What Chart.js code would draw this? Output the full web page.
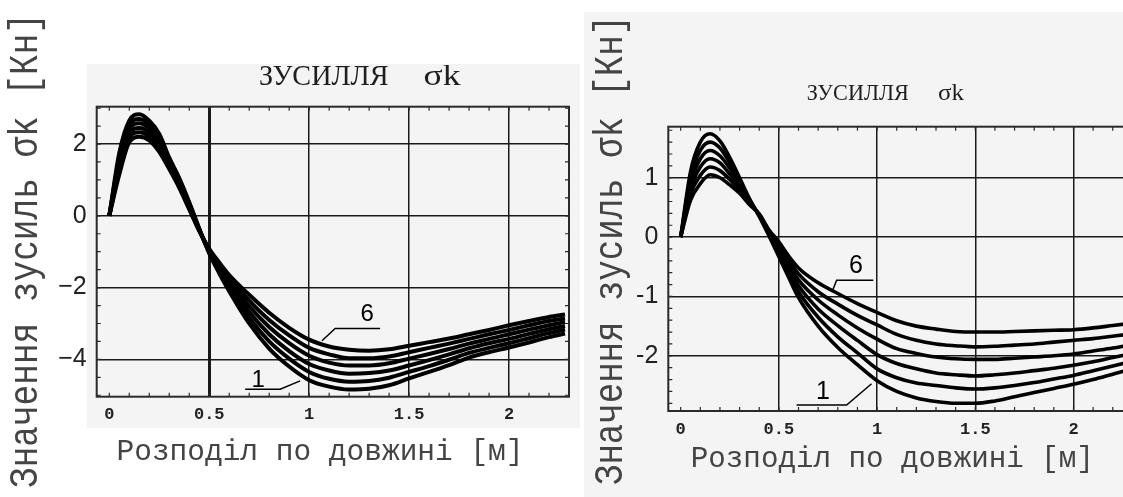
<!DOCTYPE html>
<html>
<head>
<meta charset="utf-8">
<script src="https://cdn.jsdelivr.net/npm/chart.js@4.4.1/dist/chart.umd.min.js"></script>
<style>
  html, body { margin: 0; padding: 0; background: #fff; overflow: hidden; width: 1123px; height: 497px; }
  .bg { position: absolute; background: #f4f4f4; }
  .box { position: absolute; top: 0; height: 497px; }
  canvas { display: block; }
</style>
</head>
<body>
<div class="bg" style="left:87px;top:64px;width:493px;height:364px"></div>
<div class="bg" style="left:584px;top:12px;width:539px;height:485px"></div>
<div class="box" style="left:0;width:580px"><canvas id="left"></canvas></div>
<div class="box" style="left:580px;width:600px"><canvas id="right"></canvas></div>
<script>
// x positions along the beam [m]
const xLeft = [0, 0.05, 0.1, 0.15, 0.2, 0.25, 0.3, 0.35, 0.4, 0.45, 0.5, 0.55, 0.6, 0.7, 0.8, 0.9, 1.0, 1.1, 1.2, 1.3, 1.4, 1.5, 1.6, 1.7, 1.8, 1.9, 2.0, 2.1, 2.2, 2.28];
const xRight = [0, 0.05, 0.1, 0.15, 0.2, 0.25, 0.3, 0.35, 0.4, 0.45, 0.5, 0.55, 0.6, 0.7, 0.8, 0.9, 1.0, 1.1, 1.2, 1.3, 1.4, 1.5, 1.6, 1.7, 1.8, 1.9, 2.0, 2.1, 2.2, 2.3];

// left chart, curves 1..6
const leftCurve1 = [0, 1.75, 2.65, 2.83, 2.65, 2.28, 1.62, 1.05, 0.38, -0.35, -1.05, -1.6, -2.1, -3.0, -3.7, -4.2, -4.58, -4.76, -4.84, -4.82, -4.72, -4.53, -4.35, -4.16, -3.95, -3.8, -3.67, -3.53, -3.38, -3.28];
const leftCurve2 = [0, 1.63, 2.53, 2.70, 2.54, 2.18, 1.56, 1.0, 0.34, -0.37, -1.02, -1.54, -2.0, -2.84, -3.5, -3.98, -4.35, -4.54, -4.62, -4.6, -4.51, -4.35, -4.19, -4.01, -3.82, -3.68, -3.55, -3.41, -3.27, -3.17];
const leftCurve3 = [0, 1.51, 2.41, 2.58, 2.43, 2.08, 1.5, 0.94, 0.3, -0.39, -0.99, -1.48, -1.91, -2.68, -3.3, -3.77, -4.13, -4.31, -4.40, -4.38, -4.31, -4.17, -4.02, -3.86, -3.69, -3.55, -3.43, -3.29, -3.16, -3.07];
const leftCurve4 = [0, 1.39, 2.29, 2.45, 2.32, 1.98, 1.43, 0.89, 0.26, -0.4, -0.96, -1.42, -1.82, -2.52, -3.1, -3.55, -3.9, -4.09, -4.17, -4.17, -4.11, -3.98, -3.85, -3.71, -3.56, -3.43, -3.3, -3.17, -3.05, -2.96];
const leftCurve5 = [0, 1.27, 2.17, 2.33, 2.21, 1.88, 1.37, 0.83, 0.22, -0.41, -0.94, -1.36, -1.73, -2.36, -2.9, -3.33, -3.68, -3.86, -3.97, -3.97, -3.92, -3.80, -3.68, -3.56, -3.43, -3.3, -3.18, -3.05, -2.93, -2.86];
const leftCurve6 = [0, 1.15, 2.05, 2.2, 2.1, 1.78, 1.3, 0.78, 0.18, -0.42, -0.92, -1.3, -1.65, -2.2, -2.7, -3.12, -3.45, -3.64, -3.73, -3.76, -3.72, -3.62, -3.52, -3.42, -3.3, -3.18, -3.05, -2.93, -2.82, -2.75];

// right chart, curves 1..6
const rightCurve1 = [0, 1.1, 1.6, 1.74, 1.62, 1.34, 1.0, 0.65, 0.35, 0.02, -0.33, -0.68, -1.02, -1.5, -1.86, -2.15, -2.42, -2.6, -2.71, -2.77, -2.8, -2.8, -2.76, -2.69, -2.62, -2.55, -2.48, -2.4, -2.31, -2.22];
const rightCurve2 = [0, 1.0, 1.46, 1.60, 1.50, 1.25, 0.95, 0.63, 0.36, 0.04, -0.28, -0.6, -0.92, -1.35, -1.68, -1.95, -2.22, -2.37, -2.46, -2.50, -2.54, -2.56, -2.54, -2.50, -2.45, -2.39, -2.33, -2.25, -2.17, -2.09];
const rightCurve3 = [0, 0.9, 1.32, 1.46, 1.37, 1.16, 0.9, 0.61, 0.36, 0.06, -0.23, -0.53, -0.82, -1.21, -1.49, -1.74, -1.98, -2.13, -2.22, -2.29, -2.32, -2.34, -2.32, -2.29, -2.25, -2.21, -2.16, -2.1, -2.03, -1.96];
const rightCurve4 = [0, 0.81, 1.18, 1.32, 1.25, 1.06, 0.84, 0.59, 0.37, 0.08, -0.18, -0.46, -0.72, -1.06, -1.31, -1.53, -1.72, -1.88, -1.96, -2.02, -2.05, -2.06, -2.06, -2.04, -2.02, -2.0, -1.97, -1.92, -1.87, -1.81];
const rightCurve5 = [0, 0.72, 1.04, 1.18, 1.12, 0.97, 0.79, 0.57, 0.38, 0.1, -0.13, -0.39, -0.62, -0.92, -1.13, -1.32, -1.48, -1.64, -1.74, -1.80, -1.83, -1.85, -1.84, -1.82, -1.80, -1.77, -1.74, -1.71, -1.67, -1.63];
const rightCurve6 = [0, 0.62, 0.9, 1.05, 1.0, 0.88, 0.74, 0.55, 0.39, 0.12, -0.08, -0.32, -0.52, -0.77, -0.95, -1.12, -1.27, -1.41, -1.5, -1.55, -1.59, -1.6, -1.6, -1.59, -1.58, -1.57, -1.56, -1.53, -1.49, -1.45];

// ticks
const xTicks = [0, 0.5, 1, 1.5, 2];
const xTickLabels = ['0', '0.5', '1', '1.5', '2'];
const leftYTicks = [-4, -2, 0, 2];
const leftYTickLabels = ['\u22124', '\u22122', '0', '2'];
const rightYTicks = [-2, -1, 0, 1];
const rightYTickLabels = ['-2', '-1', '0', '1'];

const chartTitle = 'ЗУСИЛЛЯ';
const chartTitleSym = 'σk';
const xTitle = 'Розподіл по довжині [м]';
const yTitle = 'Значення зусиль σk [Кн]';

function toPoints(xs, ys) {
  return xs.map((x, i) => ({ x: x, y: ys[i] }));
}

function makeSets(xs, curves, width) {
  return curves.map((c, i) => ({
    label: String(i + 1),
    data: toPoints(xs, c),
    borderColor: '#000',
    borderWidth: width,
    pointRadius: 0,
    fill: false,
    cubicInterpolationMode: 'monotone'
  }));
}

// fit a text to a given length, optional rotation
function fitText(ctx, text, x, y, len, font, rotate) {
  ctx.save();
  ctx.font = font;
  ctx.textAlign = 'left';
  ctx.textBaseline = 'alphabetic';
  const w = ctx.measureText(text).width;
  ctx.translate(x, y);
  if (rotate) ctx.rotate(-Math.PI / 2);
  ctx.scale(len / w, 1);
  ctx.fillText(text, 0, 0);
  ctx.restore();
}

const decor = {
  id: 'decor',
  afterDraw(chart, args, o) {
    const ctx = chart.ctx;
    const a = chart.chartArea;
    const xs = chart.scales.x, ys = chart.scales.y;
    ctx.save();
    ctx.strokeStyle = '#2a2a2a';
    ctx.fillStyle = '#2a2a2a';
    // frame
    ctx.lineWidth = 2;
    ctx.strokeRect(a.left, a.top, a.right - a.left, a.bottom - a.top);
    // small inner ticks
    ctx.lineWidth = 1.2;
    ctx.beginPath();
    for (let v = 0; v <= o.xMinorMax + 1e-9; v += 0.1) {
      const px = xs.getPixelForValue(v);
      ctx.moveTo(px, a.bottom); ctx.lineTo(px, a.bottom - 4);
      ctx.moveTo(px, a.top); ctx.lineTo(px, a.top + 4);
    }
    for (let v = o.yMinorFrom; v <= o.yMinorTo + 1e-9; v += o.yMinorStep) {
      const py = ys.getPixelForValue(v);
      ctx.moveTo(a.left, py); ctx.lineTo(a.left + 4, py);
      ctx.moveTo(a.right, py); ctx.lineTo(a.right - 4, py);
    }
    ctx.stroke();

    // curve number labels with leader lines
    ctx.strokeStyle = '#000';
    ctx.fillStyle = '#000';
    ctx.lineWidth = 1.5;
    o.marks.forEach(m => {
      ctx.beginPath();
      m.line.forEach((p, i) => {
        const px = xs.getPixelForValue(p[0]), py = ys.getPixelForValue(p[1]);
        if (i === 0) ctx.moveTo(px, py); else ctx.lineTo(px, py);
      });
      ctx.stroke();
      ctx.font = o.markFont;
      ctx.textAlign = 'center';
      ctx.textBaseline = 'alphabetic';
      ctx.fillText(m.text, xs.getPixelForValue(m.at[0]), ys.getPixelForValue(m.at[1]));
    });

    // titles
    ctx.fillStyle = '#1e1e1e';
    const t = o.titles;
    fitText(ctx, chartTitle, t.main[0], t.main[1], t.main[2], t.mainFont, false);
    fitText(ctx, chartTitleSym, t.sym[0], t.sym[1], t.sym[2], t.mainFont, false);
    ctx.fillStyle = '#444';
    fitText(ctx, xTitle, t.x[0], t.x[1], t.x[2], '30px "Liberation Mono"', false);
    fitText(ctx, yTitle, t.y[0], t.y[1], t.y[2], '40px "Liberation Mono"', true);
    ctx.restore();
  }
};

function makeChart(id, cfg) {
  return new Chart(document.getElementById(id), {
    type: 'line',
    data: { datasets: makeSets(cfg.xs, cfg.curves, cfg.lineWidth) },
    plugins: [decor],
    options: {
      responsive: true,
      maintainAspectRatio: false,
      animation: false,
      layout: { padding: cfg.padding },
      plugins: {
        legend: { display: false },
        title: { display: false },
        tooltip: { enabled: false },
        decor: cfg.decor
      },
      scales: {
        x: {
          type: 'linear',
          min: cfg.xMin,
          max: cfg.xMax,
          afterBuildTicks: s => { s.ticks = xTicks.map(v => ({ value: v })); },
          afterFit: s => { s.height = 30; },
          border: { display: false },
          grid: {
            drawTicks: false,
            color: c => (c.tick && c.tick.value === 0) ? 'rgba(0,0,0,0)' : '#1a1a1a',
            lineWidth: c => (cfg.boldHalf && c.tick && c.tick.value === 0.5) ? 3 : 1.5
          },
          ticks: {
            autoSkip: false,
            maxRotation: 0,
            padding: cfg.xTickPad,
            color: '#222',
            font: { family: 'Liberation Mono', size: 17, weight: 'bold' },
            callback: (v, i) => xTickLabels[i]
          }
        },
        y: {
          type: 'linear',
          min: cfg.yMin,
          max: cfg.yMax,
          afterBuildTicks: s => { s.ticks = cfg.yTicks.map(v => ({ value: v })); },
          afterFit: s => { s.width = 40; },
          border: { display: false },
          grid: { drawTicks: false, color: '#1a1a1a', lineWidth: 1.5 },
          ticks: {
            autoSkip: false,
            padding: 10,
            color: '#222',
            font: { family: 'Liberation Sans', size: 25 },
            callback: (v, i) => cfg.yTickLabels[i]
          }
        }
      }
    }
  });
}

makeChart('left', {
  xs: xLeft,
  curves: [leftCurve1, leftCurve2, leftCurve3, leftCurve4, leftCurve5, leftCurve6],
  lineWidth: 4,
  padding: { left: 56.7, right: 11, top: 106.7, bottom: 70.3 },
  xMin: -0.063, xMax: 2.3, yMin: -5.04, yMax: 3.04,
  yTicks: leftYTicks, yTickLabels: leftYTickLabels,
  xTickPad: 8, boldHalf: true,
  decor: {
    xMinorMax: 2.3, yMinorFrom: -5, yMinorTo: 3, yMinorStep: 0.5,
    markFont: '24px "Liberation Sans"',
    marks: [
      { text: '6', at: [1.29, -2.92], line: [[1.064, -3.48], [1.13, -3.14], [1.355, -3.14]] },
      { text: '1', at: [0.745, -4.77], line: [[0.68, -4.83], [0.855, -4.83], [0.955, -4.6]] }
    ],
    titles: {
      mainFont: '30px "Liberation Serif"',
      main: [259, 85, 129.5],
      sym: [423.6, 85, 37],
      x: [116.5, 460, 407],
      y: [37, 488, 475]
    }
  }
});

makeChart('right', {
  xs: xRight,
  curves: [rightCurve1, rightCurve2, rightCurve3, rightCurve4, rightCurve5, rightCurve6],
  lineWidth: 3.6,
  padding: { left: 48.3, right: 47.6, top: 126.7, bottom: 56 },
  xMin: -0.063, xMax: 2.3, yMin: -2.93, yMax: 1.86,
  yTicks: rightYTicks, yTickLabels: rightYTickLabels,
  xTickPad: 9, boldHalf: false,
  decor: {
    xMinorMax: 2.3, yMinorFrom: -2.8, yMinorTo: 1.8, yMinorStep: 0.2,
    markFont: '25px "Liberation Sans"',
    marks: [
      { text: '6', at: [0.893, -0.61], line: [[0.774, -0.894], [0.794, -0.725], [0.981, -0.725]] },
      { text: '1', at: [0.725, -2.72], line: [[0.59, -2.83], [0.845, -2.83], [0.972, -2.47]] }
    ],
    titles: {
      mainFont: '23px "Liberation Serif"',
      main: [226.8, 100, 102],
      sym: [358, 100, 26],
      x: [110.8, 467, 403],
      y: [42, 485, 470]
    }
  }
});
</script>
</body>
</html>
